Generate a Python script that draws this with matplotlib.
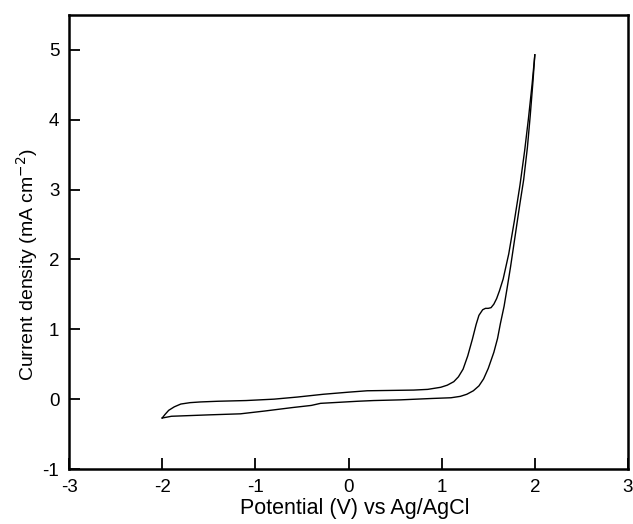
import matplotlib
matplotlib.use("Agg")
import matplotlib.pyplot as plt

plt.rcParams['font.family'] = ['Liberation Sans', 'DejaVu Sans']

# Upper (higher current) branch: potential (V), current density (mA cm^-2)
upper_E = [-2.00, -1.97, -1.93, -1.87, -1.80, -1.70, -1.59, -1.40, -1.10, -0.80,
           -0.55, -0.27, 0.00, 0.20, 0.45, 0.70, 0.85, 0.99, 1.06, 1.13,
           1.18, 1.23, 1.28, 1.33, 1.37, 1.40, 1.44, 1.47, 1.50, 1.53,
           1.56, 1.59, 1.62, 1.66, 1.72, 1.78, 1.84, 1.89, 1.93, 1.97, 2.00]
upper_I = [-0.27, -0.22, -0.16, -0.11, -0.07, -0.05, -0.04, -0.03, -0.02, 0.00,
           0.03, 0.07, 0.10, 0.12, 0.125, 0.13, 0.14, 0.17, 0.20, 0.25,
           0.32, 0.43, 0.62, 0.86, 1.07, 1.20, 1.28, 1.30, 1.30, 1.31,
           1.36, 1.44, 1.55, 1.72, 2.08, 2.55, 3.06, 3.55, 4.00, 4.50, 4.93]

# Lower branch
lower_E = [-2.00, -1.90, -1.70, -1.50, -1.16, -0.90, -0.60, -0.40, -0.30, -0.10,
           0.10, 0.27, 0.56, 0.90, 1.10, 1.20, 1.27, 1.34, 1.40, 1.45,
           1.50, 1.56, 1.60, 1.63, 1.67, 1.70, 1.74, 1.79, 1.84, 1.88,
           1.92, 1.95, 1.98, 2.00]
lower_I = [-0.27, -0.245, -0.235, -0.225, -0.21, -0.17, -0.12, -0.09, -0.06, -0.045,
           -0.03, -0.02, -0.01, 0.01, 0.02, 0.04, 0.07, 0.12, 0.19, 0.29,
           0.44, 0.67, 0.87, 1.08, 1.33, 1.57, 1.90, 2.35, 2.80, 3.14,
           3.60, 4.05, 4.55, 4.93]

x_ticks = [-3, -2, -1, 0, 1, 2, 3]
y_ticks = [-1, 0, 1, 2, 3, 4, 5]

fig = plt.figure(figsize=(6.33, 5.24), dpi=100)
ax = fig.add_axes([69/633, 1 - 469/524, (628-69)/633, (469-15)/524])

ax.plot(upper_E, upper_I, color='black', lw=1.0)
ax.plot(lower_E, lower_I, color='black', lw=1.0)

ax.set_xlim(-3, 3)
ax.set_ylim(-1, 5.5)
ax.set_xticks(x_ticks)
ax.set_yticks(y_ticks)
ax.set_xticklabels([str(t) for t in x_ticks])
ax.set_yticklabels([str(t) for t in y_ticks])
ax.tick_params(direction='in', length=8, width=1.3, labelsize=13.5, top=False, right=False)
ax.tick_params(axis='x', pad=7)
ax.tick_params(axis='y', pad=7)
for s in ax.spines.values():
    s.set_linewidth(1.8)

ax.set_xlabel('Potential (V) vs Ag/AgCl', fontsize=15.5, va='top')
ax.xaxis.set_label_coords(0.512, -0.064)
ax.set_ylabel('Current density (mA cm$^{-2}$)', fontsize=14, va='center')
ax.yaxis.set_label_coords(-0.075, 0.45)

fig.savefig('out.png', dpi=100)
